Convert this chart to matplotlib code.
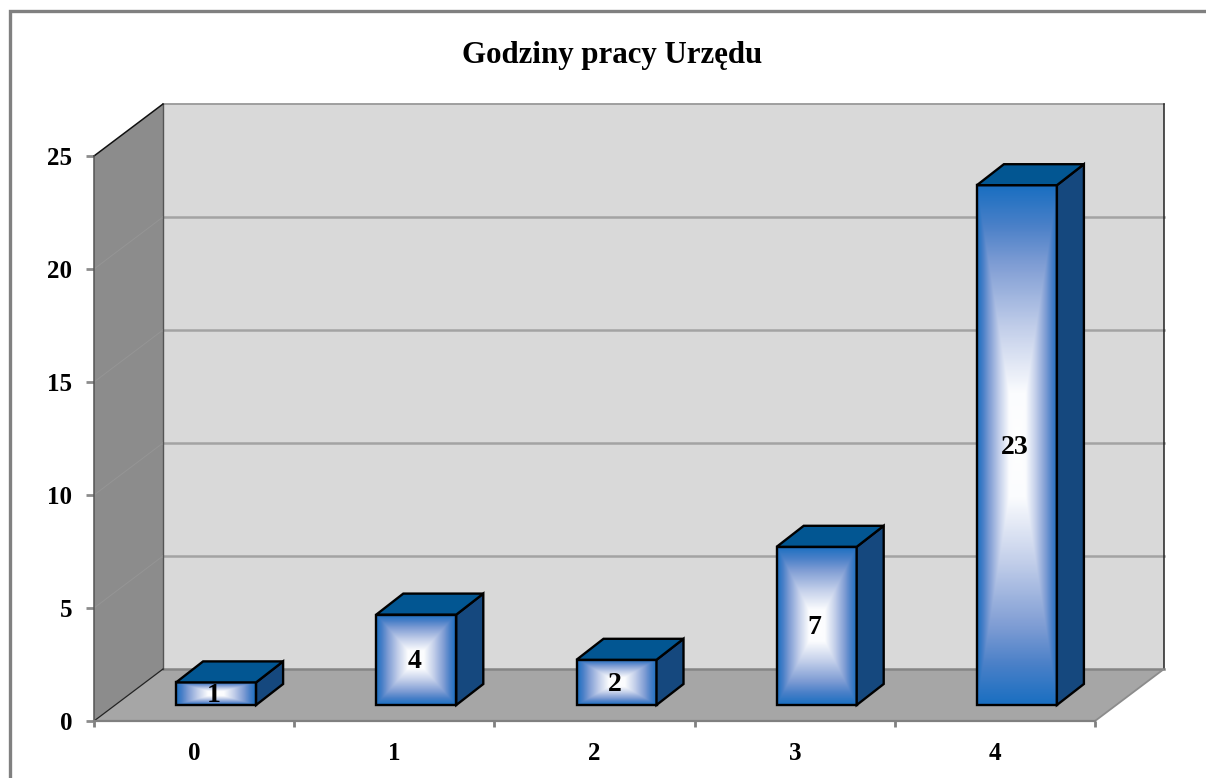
import numpy as np
import matplotlib
matplotlib.use('Agg')
import matplotlib.pyplot as plt
from matplotlib.colors import LinearSegmentedColormap
from matplotlib.lines import Line2D
from matplotlib.patches import Polygon

# Data
categories = ['0', '1', '2', '3', '4']
values = [1, 4, 2, 7, 23]
y_ticks = [0, 5, 10, 15, 20, 25]
title = 'Godziny pracy Urzędu'

plt.rcParams['font.family'] = ['Liberation Serif', 'DejaVu Serif']
plt.rcParams['font.weight'] = 'bold'

W, H = 1206, 778
fig = plt.figure(figsize=(W / 100, H / 100), dpi=100, facecolor='white')
ax = fig.add_axes([94 / W, (H - 721) / H, 1001 / W, 565 / H])
ax.set_facecolor('none')

xmin, xmax = -0.5, 4.5
ymin, ymax = 0, 25
px_x = 1001 / (xmax - xmin)
px_y = 565 / (ymax - ymin)

# 3d offsets, pixels turned into data units
wall_dx, wall_dy = 69 / px_x, 52 / px_y
bar_dx, bar_dy = 22 / px_x, 16 / px_y
depth_dx, depth_dy = 27 / px_x, 21 / px_y
bar_w = 80 / px_x


def poly(pts, fc, ec='none', lw=0, z=1):
    ax.add_patch(Polygon(pts, closed=True, facecolor=fc, edgecolor=ec, linewidth=lw,
                         joinstyle='miter', clip_on=False, zorder=z))


# Walls and floor
poly([(xmin + wall_dx, ymin + wall_dy), (xmax + wall_dx, ymin + wall_dy),
      (xmax + wall_dx, ymax + wall_dy), (xmin + wall_dx, ymax + wall_dy)], '#d9d9d9')
poly([(xmin, ymin), (xmin + wall_dx, ymin + wall_dy),
      (xmin + wall_dx, ymax + wall_dy), (xmin, ymax)], '#8c8c8c')
poly([(xmin, ymin), (xmax, ymin), (xmax + wall_dx, ymin + wall_dy),
      (xmin + wall_dx, ymin + wall_dy)], '#a6a6a6')

# Grid on back and side wall
for t in y_ticks[1:-1]:
    ax.plot([xmin + wall_dx, xmax + wall_dx], [t + wall_dy, t + wall_dy], color='#a3a3a3',
            lw=1.8, clip_on=False, zorder=2)
    ax.plot([xmin, xmin + wall_dx], [t, t + wall_dy], color='#959595', lw=0.7,
            clip_on=False, zorder=2)

# Wall edges
ax.plot([xmin + wall_dx, xmax + wall_dx], [ymax + wall_dy] * 2, color='#999999', lw=1.3, clip_on=False, zorder=2)
ax.plot([xmin + wall_dx, xmax + wall_dx], [ymin + wall_dy] * 2, color='#858585', lw=1.8, clip_on=False, zorder=2)
ax.plot([xmin + wall_dx] * 2, [ymin + wall_dy, ymax + wall_dy], color='#555555', lw=1.0, clip_on=False, zorder=2)
ax.plot([xmax + wall_dx] * 2, [ymin + wall_dy, ymax + wall_dy], color='#222222', lw=1.1, clip_on=False, zorder=2)
ax.plot([xmin, xmin + wall_dx], [ymax, ymax + wall_dy], color='#111111', lw=1.1, clip_on=False, zorder=2)
ax.plot([xmin, xmin + wall_dx], [ymin, ymin + wall_dy], color='#222222', lw=0.9, clip_on=False, zorder=2)
ax.plot([xmax, xmax + wall_dx], [ymin, ymin + wall_dy], color='#8c8c8c', lw=1.3, clip_on=False, zorder=2)

# Bars with a box gradient on the front
cmap = LinearSegmentedColormap.from_list('box', [(0, '#ffffff'), (0.2, '#fbfcfe'), (0.45, '#c3cfea'),
                                                 (0.7, '#7f9dd4'), (0.85, '#4a80c8'), (1, '#1a6fc1')])
n = 201
u, v = np.meshgrid(np.linspace(-1, 1, n), np.linspace(-1, 1, n))
box = np.maximum(np.abs(u), np.abs(v))

for i, val in enumerate(values):
    x0 = i + bar_dx - bar_w / 2
    x1 = x0 + bar_w
    y0 = bar_dy
    y1 = y0 + val
    ax.imshow(box, cmap=cmap, vmin=0, vmax=1, extent=(x0, x1, y0, y1), aspect='auto',
              interpolation='bilinear', zorder=3, clip_on=False)
    poly([(x0, y0), (x1, y0), (x1, y1), (x0, y1)], 'none', '#000000', 1.7, 4)
    poly([(x1, y0), (x1 + depth_dx, y0 + depth_dy), (x1 + depth_dx, y1 + depth_dy), (x1, y1)],
         '#15487e', '#000000', 1.7, 4)
    poly([(x0, y1), (x1, y1), (x1 + depth_dx, y1 + depth_dy), (x0 + depth_dx, y1 + depth_dy)],
         '#025692', '#000000', 1.7, 4)
    ax.annotate(str(val), (i + bar_dx, (y0 + y1) / 2), xytext=(-2, -2), textcoords='offset pixels',
                ha='center', va='center', fontsize=20, color='black', zorder=5)

ax.set_xlim(xmin, xmax)
ax.set_ylim(ymin, ymax)

# Axes
for s in ['top', 'right']:
    ax.spines[s].set_visible(False)
ax.spines['left'].set_color('#555555')
ax.spines['left'].set_linewidth(1.1)
ax.spines['bottom'].set_color('#808080')
ax.spines['bottom'].set_linewidth(1.6)
ax.spines['left'].set_zorder(2.5)
ax.spines['bottom'].set_zorder(2.5)
ax.set_yticks(y_ticks)
ax.set_xticks(np.arange(xmin, xmax + 0.5, 1))
ax.set_xticklabels([])
ax.tick_params(axis='y', length=5.5, width=2.0, color='#8c8c8c', pad=10, labelsize=18)
ax.tick_params(axis='x', length=4.5, width=2.0, color='#808080')
for i, c in enumerate(categories):
    ax.annotate(c, (i, 0), xycoords='data', xytext=(0, -33), textcoords='offset pixels',
                ha='center', va='center', fontsize=18, annotation_clip=False)

fig.text(612 / W, 1 - 56 / H, title, ha='center', va='center', fontsize=22.2, fontweight='bold')

# Outer frame, only top and left show
fig.add_artist(Line2D([10 / W, 10 / W, 1], [0, 1 - 11 / H, 1 - 11 / H], color='#808080', lw=2.4,
                      transform=fig.transFigure, solid_joinstyle='miter'))

fig.savefig('out.png', dpi=100)
